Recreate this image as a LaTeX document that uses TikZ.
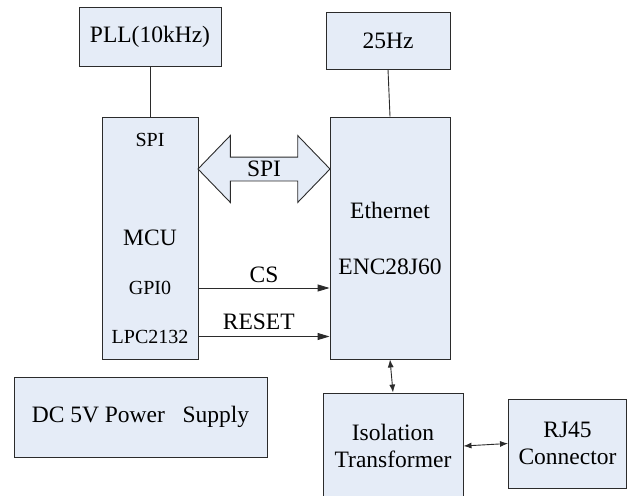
\documentclass[tikz,border=0pt]{standalone}
\usepackage{fontspec}
\setmainfont{Liberation Serif}
\usetikzlibrary{arrows.meta,positioning,shapes.arrows,calc}
\definecolor{ink}{HTML}{2B2B2B}
\definecolor{boxfill}{HTML}{E5ECF7}
\tikzset{
  box/.style={draw=ink,line width=0.9pt,fill=boxfill,align=center,inner sep=0pt,font=\fontsize{23.5}{27}\selectfont},
  pin/.style={inner sep=0pt,font=\fontsize{20}{24}\selectfont},
  lbl/.style={inner sep=0pt,font=\fontsize{23.5}{27}\selectfont},
  wire/.style={draw=ink,line width=0.9pt},
  sig/.style={wire,-{Triangle[length=12pt,width=7pt]}},
  bidir/.style={wire,{Latex[length=8pt,width=6pt]}-{Latex[length=8pt,width=6pt]}},
  bus/.style={draw=ink,line width=0.9pt,fill=boxfill,shape=double arrow,double arrow head extend=21.5pt,
    double arrow tip angle=92,inner xsep=0pt,inner ysep=0pt,text height=19.3pt,text depth=3.7pt,
    minimum height=132pt,font=\fontsize{23.5}{27}\selectfont}
}
\begin{document}
\begin{tikzpicture}[x=1pt,y=1pt]
  \useasboundingbox (0,0) rectangle (628,-495);
  % blocks
  \node[box,minimum width=142pt,minimum height=59pt] (pll) at (150,-36.5) {PLL(10kHz)};
  \node[box,minimum width=124pt,minimum height=57pt] (clk) at (388,-40.5) {25Hz};
  \node[box,minimum width=96pt,minimum height=242pt] (mcu) at (150,-238) {};
  \node[box,minimum width=120pt,minimum height=242pt] (eth) at (390,-238) {};
  \node[box,minimum width=253pt,minimum height=80pt] (power) at (140.5,-417) {DC 5V Power\ \ \ Supply};
  \node[box,minimum width=140pt,minimum height=106pt] (iso) at (393,-446) {Isolation\\Transformer};
  \node[box,minimum width=118pt,minimum height=89pt] (rj45) at (567.5,-443.5) {RJ45\\Connector};
  % texts inside mcu and eth
  \node[pin] (mcuspi) at (150,-140) {SPI};
  \node[lbl] (mcuname) at (150,-238) {MCU};
  \node[pin] (mcugpio) at (150,-288) {GPI0};
  \node[pin] (mcupart) at (150,-336.5) {LPC2132};
  \node[lbl] (ethname) at (390,-210) {Ethernet};
  \node[lbl] (ethpart) at (390,-267) {ENC28J60};
  % spi bus
  \node[bus] (spi) at (264,-169) {SPI};
  % connections
  \draw[wire] (pll.south) -- (mcu.north);
  \draw[wire] (clk.south) -- (eth.north);
  \draw[sig] (mcugpio -| mcu.east) -- node[lbl,above=5pt] {CS} (mcugpio -| eth.west);
  \draw[sig] (mcupart -| mcu.east) -- node[lbl,above=6pt,pos=0.46] {RESET} (mcupart -| eth.west);
  \draw[bidir] (eth.south) -- (iso.north);
  \draw[bidir] (iso.east) -- (rj45.west);
\end{tikzpicture}
\end{document}
